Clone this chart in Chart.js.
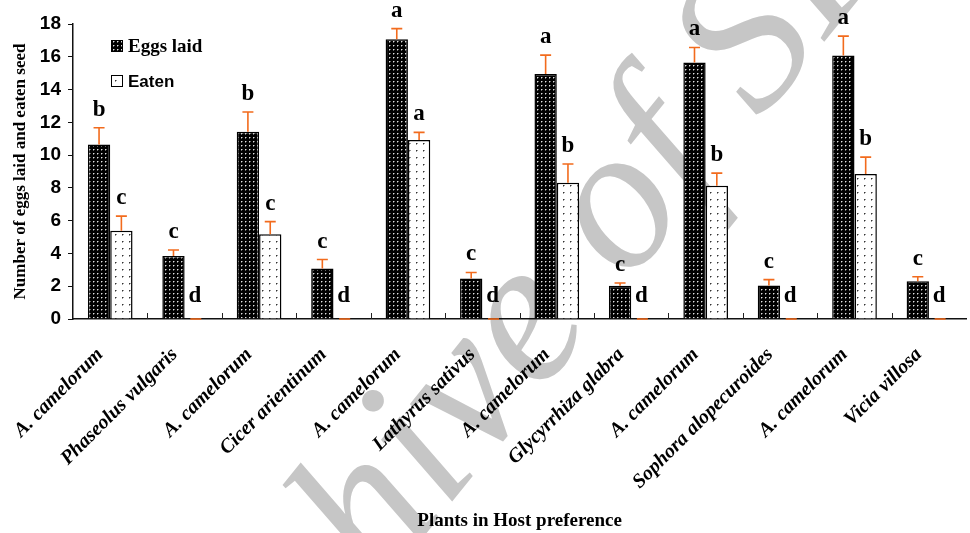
<!DOCTYPE html>
<html>
<head>
<meta charset="utf-8">
<script src="https://cdn.jsdelivr.net/npm/chart.js@4.4.0/dist/chart.umd.min.js"></script>
<style>
  html, body { margin: 0; padding: 0; background: #fff; }
  #wrap { width: 970px; height: 533px; position: relative; }
</style>
</head>
<body>
<div id="wrap"><canvas id="chart" width="970" height="533"></canvas></div>
<script>
// Host plants (x categories)
const categories = [
  "A. camelorum", "Phaseolus vulgaris", "A. camelorum", "Cicer arientinum",
  "A. camelorum", "Lathyrus sativus", "A. camelorum", "Glycyrrhiza glabra",
  "A. camelorum", "Sophora alopecuroides", "A. camelorum", "Vicia villosa"
];

// Series values
const eggsLaid = [10.65, 3.84, 11.43, 3.08, 17.07, 2.47, 14.95, 2.03, 15.65, 2.05, 16.08, 2.3];
const eggsErr  = [1.02, 0.37, 1.2, 0.55, 0.65, 0.37, 1.15, 0.17, 0.92, 0.35, 1.18, 0.28];
const eaten    = [5.38, 0, 5.17, 0, 10.92, 0, 8.32, 0, 8.13, 0, 8.85, 0];
const eatenErr = [0.9, 0, 0.77, 0, 0.47, 0, 1.14, 0, 0.77, 0, 1.03, 0];

// Significance letters above bars
const eggsLetters  = ["b", "c", "b", "c", "a", "c", "a", "c", "a", "c", "a", "c"];
const eatenLetters = ["c", "d", "c", "d", "a", "d", "b", "d", "b", "d", "b", "d"];

const yTicks = [0, 2, 4, 6, 8, 10, 12, 14, 16, 18];

// dotted fill patterns
function makePattern(w, h, bg, draw) {
  const c = document.createElement("canvas");
  c.width = w; c.height = h;
  const g = c.getContext("2d");
  g.fillStyle = bg;
  g.fillRect(0, 0, w, h);
  draw(g);
  return g.createPattern(c, "repeat");
}
const darkDots = makePattern(4, 4, "#000", g => {
  g.fillStyle = "#e0e0e0"; g.fillRect(1, 1, 1, 1);
  g.fillStyle = "#666"; g.fillRect(2, 1, 1, 1); g.fillRect(1, 2, 1, 1);
});
const lightDots = makePattern(7, 7, "#fff", g => {
  g.fillStyle = "#333"; g.fillRect(3, 3, 1, 1);
  g.fillStyle = "#999"; g.fillRect(4, 3, 1, 1); g.fillRect(3, 4, 1, 1);
});

const ERR_COLOR = "#f26b1d";

const extras = {
  id: "extras",
  beforeDraw(chart) {
    // watermark
    const ctx = chart.ctx;
    ctx.save();
    ctx.translate(199, 814);
    ctx.rotate(-51 * Math.PI / 180);
    ctx.fillStyle = "#c6c6c6";
    ctx.font = "italic 205px 'Liberation Serif'";
    ctx.textBaseline = "alphabetic";
    ctx.fillText("Archive of SID", 0, 0);
    ctx.restore();
  },
  afterDatasetsDraw(chart) {
    const ctx = chart.ctx;
    const y = chart.scales.y;
    const x = chart.scales.x;
    const errs = [eggsErr, eatenErr];
    const letters = [eggsLetters, eatenLetters];
    ctx.save();
    // error bars
    chart.data.datasets.forEach((ds, di) => {
      chart.getDatasetMeta(di).data.forEach((bar, i) => {
        const v = ds.data[i];
        const top = y.getPixelForValue(v + errs[di][i]);
        const base = y.getPixelForValue(v);
        ctx.strokeStyle = ERR_COLOR;
        ctx.lineWidth = 1.6;
        ctx.beginPath();
        ctx.moveTo(bar.x, base);
        ctx.lineTo(bar.x, top);
        ctx.moveTo(bar.x - 5.5, top);
        ctx.lineTo(bar.x + 5.5, top);
        ctx.stroke();
        // letter
        ctx.fillStyle = "#000";
        ctx.font = "bold 23px 'Liberation Serif'";
        ctx.textAlign = "center";
        ctx.textBaseline = "alphabetic";
        if (v > 0) {
          ctx.fillText(letters[di][i], bar.x, top - 12);
        } else {
          ctx.fillText(letters[di][i], bar.x - 1, y.getPixelForValue(0) - 17);
        }
      });
    });
    // category separator ticks (inside)
    const y0 = y.getPixelForValue(0);
    ctx.strokeStyle = "#222";
    ctx.lineWidth = 1;
    for (let i = 1; i < categories.length; i++) {
      const xp = (x.getPixelForValue(i - 1) + x.getPixelForValue(i)) / 2;
      ctx.beginPath();
      ctx.moveTo(Math.round(xp) + 0.5, y0);
      ctx.lineTo(Math.round(xp) + 0.5, y0 - 6);
      ctx.stroke();
    }
    // legend
    const items = [
      { fill: darkDots, text: chart.data.datasets[0].label, font: "bold 19px 'Liberation Serif'", y: 46 },
      { fill: lightDots, text: chart.data.datasets[1].label, font: "bold 17px 'Liberation Sans'", y: 81 }
    ];
    items.forEach(it => {
      ctx.fillStyle = it.fill;
      ctx.fillRect(111, it.y - 6, 12, 12);
      ctx.strokeStyle = "#000";
      ctx.lineWidth = 1;
      ctx.strokeRect(111.5, it.y - 5.5, 11, 11);
      ctx.fillStyle = "#000";
      ctx.font = it.font;
      ctx.textAlign = "left";
      ctx.textBaseline = "middle";
      ctx.fillText(it.text, 128, it.y + 1);
    });
    ctx.restore();
  }
};

new Chart(document.getElementById("chart"), {
  type: "bar",
  data: {
    labels: categories,
    datasets: [
      {
        label: "Eggs laid",
        data: eggsLaid,
        backgroundColor: darkDots,
        borderColor: "#000",
        borderWidth: 1.5,
        categoryPercentage: 0.6,
        barPercentage: 1.0
      },
      {
        label: "Eaten",
        data: eaten,
        backgroundColor: lightDots,
        borderColor: "#000",
        borderWidth: 1.5,
        categoryPercentage: 0.6,
        barPercentage: 1.0
      }
    ]
  },
  options: {
    responsive: false,
    animation: false,
    devicePixelRatio: 1,
    layout: { padding: { top: 24, right: 2, left: 0, bottom: 0 } },
    plugins: {
      legend: { display: false },
      tooltip: { enabled: false }
    },
    scales: {
      x: {
        grid: { display: false, drawTicks: false },
        border: { display: true, color: "#111", width: 1.5 },
        ticks: {
          autoSkip: false,
          maxRotation: 45,
          minRotation: 45,
          padding: 24,
          labelOffset: -10,
          color: "#000",
          font: { family: "'Liberation Serif'", size: 20, style: "italic", weight: "bold" }
        },
        title: {
          display: true,
          text: "Plants in Host preference",
          color: "#000",
          font: { family: "'Liberation Serif'", size: 19, weight: "bold" },
          padding: { top: 0, bottom: 1 }
        },
        afterFit(scale) { scale.height = 533 - 319; }
      },
      y: {
        min: 0,
        max: 18,
        afterBuildTicks(scale) { scale.ticks = yTicks.map(v => ({ value: v })); },
        grid: { drawOnChartArea: false, drawTicks: true, tickLength: 5, color: "#111" },
        border: { display: true, color: "#111", width: 1.5 },
        ticks: {
          padding: 7,
          color: "#000",
          font: { family: "'Liberation Sans'", size: 19, weight: "bold" }
        },
        title: {
          display: true,
          text: "Number of eggs laid and eaten seed",
          color: "#000",
          font: { family: "'Liberation Serif'", size: 17, weight: "bold" },
          padding: { top: 10, bottom: 0 }
        },
        afterFit(scale) { scale.width = 73; }
      }
    }
  },
  plugins: [extras]
});
</script>
</body>
</html>
